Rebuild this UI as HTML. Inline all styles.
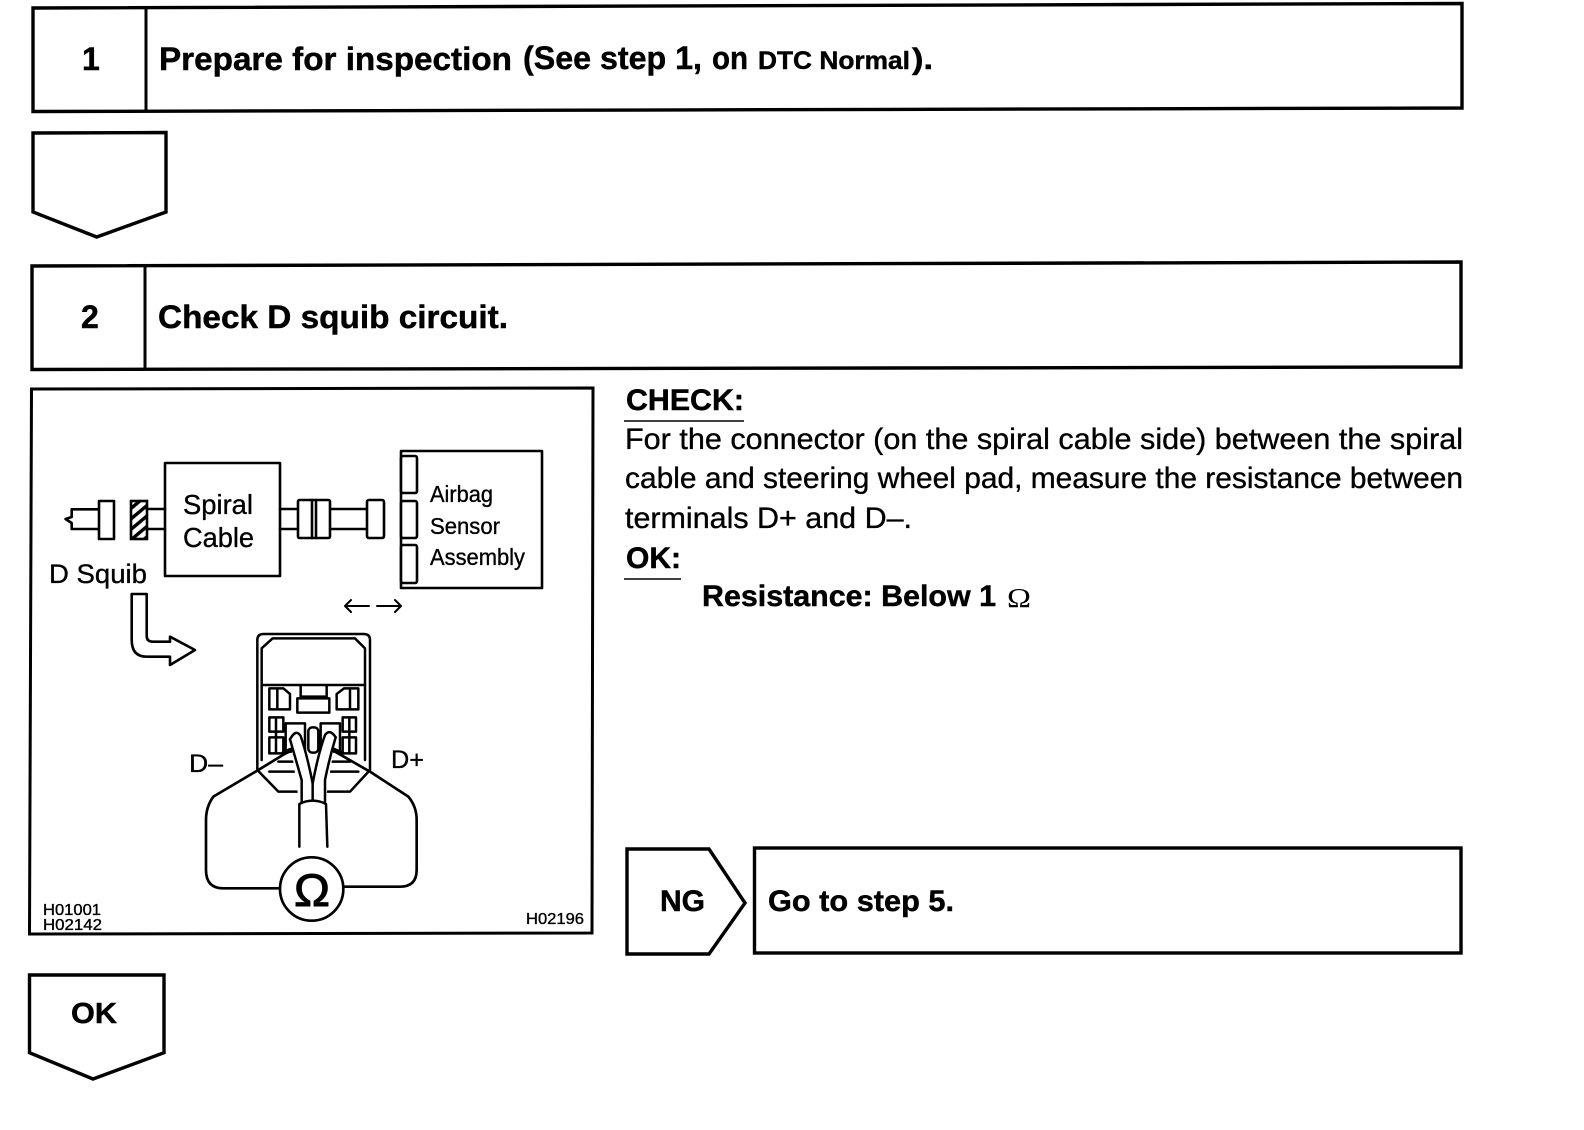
<!DOCTYPE html>
<html lang="en">
<head>
<meta charset="utf-8">
<title>Check D squib circuit</title>
<style>
html,body{margin:0;padding:0;background:#fff;width:1584px;height:1130px;overflow:hidden}
svg{display:block}
text{font-family:"Liberation Sans",Arial,sans-serif;fill:#000}
.b{font-weight:700;stroke:#000;stroke-width:.45px}
.r{stroke:#000;stroke-width:.35px}
.s{fill:none;stroke:#000;stroke-width:2.6;stroke-linejoin:round;stroke-linecap:round}
.f{fill:#fff;stroke:#000;stroke-width:2.6;stroke-linejoin:round}
.h{fill:#fff;stroke:#000;stroke-width:3.4;stroke-linejoin:miter}
</style>
</head>
<body>
<svg xmlns="http://www.w3.org/2000/svg" width="1584" height="1130" viewBox="0 0 1584 1130">
<defs>
<pattern id="hat" width="8" height="8" patternUnits="userSpaceOnUse" patternTransform="rotate(-40)">
<rect width="8" height="8" fill="#fff"/><rect width="8" height="3.4" fill="#000"/>
</pattern>
</defs>
<rect width="1584" height="1130" fill="#fff"/>

<!-- Step 1 -->
<polygon class="h" points="33,8 1462,3.5 1462,108 33,111.5"/>
<line x1="146" y1="8" x2="146" y2="111" stroke="#000" stroke-width="3"/>
<text class="b" x="82" y="70" font-size="32">1</text>
<text class="b" x="159" y="70" font-size="32" textLength="353" lengthAdjust="spacingAndGlyphs">Prepare for inspection</text>
<text class="b" x="523" y="69" font-size="32" textLength="179" lengthAdjust="spacingAndGlyphs">(See step 1,</text>
<text class="b" x="712" y="69" font-size="32" textLength="36" lengthAdjust="spacingAndGlyphs">on</text>
<text class="b" x="758" y="69" font-size="25" textLength="152" lengthAdjust="spacingAndGlyphs">DTC Normal</text>
<text class="b" x="912" y="69" font-size="30" textLength="21" lengthAdjust="spacingAndGlyphs">).</text>

<!-- Pentagon 1 -->
<polygon class="h" points="33,133 166,132.5 166,212 96.7,237 33,212"/>

<!-- Step 2 -->
<polygon class="h" points="32,266 1461,262 1461,367 32,369.5"/>
<line x1="145" y1="266" x2="145" y2="369" stroke="#000" stroke-width="3"/>
<text class="b" x="81" y="328" font-size="32">2</text>
<text class="b" x="158" y="328" font-size="32" textLength="350" lengthAdjust="spacingAndGlyphs">Check D squib circuit.</text>

<!-- Picture frame -->
<polygon class="h" points="31.5,389 593,388 592,933 29.5,934" style="stroke-width:3"/>

<!-- Block diagram -->
<rect class="f" x="165" y="463" width="115" height="113"/>
<text class="r" x="183" y="514" font-size="28" textLength="70" lengthAdjust="spacingAndGlyphs">Spiral</text>
<text class="r" x="183" y="547" font-size="28" textLength="71" lengthAdjust="spacingAndGlyphs">Cable</text>
<text class="r" x="49" y="583" font-size="27" textLength="98" lengthAdjust="spacingAndGlyphs">D Squib</text>

<path class="s" d="M99 509.3H71.7V517L65.5 519L71.7 523V529H99"/>
<rect class="f" x="99" y="501" width="15" height="38"/>
<rect x="131" y="501" width="16" height="38" fill="url(#hat)" stroke="#000" stroke-width="2.6"/>
<path class="s" d="M147 509H165M147 529H165M280 509H298M280 529H298M330 509H367M330 529H367"/>
<rect class="f" x="298" y="500" width="32" height="38" rx="1.5"/>
<path class="s" d="M312 500V538M316 500V538"/>
<rect class="f" x="367" y="500" width="17" height="38" rx="2"/>

<rect class="f" x="401" y="451" width="141" height="137"/>
<rect class="f" x="401" y="456" width="16" height="37" rx="2"/>
<rect class="f" x="401" y="501" width="16" height="37" rx="2"/>
<rect class="f" x="401" y="545" width="16" height="38" rx="2"/>
<text class="r" x="430" y="502" font-size="23" textLength="63" lengthAdjust="spacingAndGlyphs">Airbag</text>
<text class="r" x="430" y="534" font-size="23" textLength="70" lengthAdjust="spacingAndGlyphs">Sensor</text>
<text class="r" x="430" y="565" font-size="23" textLength="95" lengthAdjust="spacingAndGlyphs">Assembly</text>

<path class="s" style="stroke-width:2" d="M369 606H345M351 600L345 606L351 612M377 606H401M395 600L401 606L395 612"/>

<!-- Bent arrow -->
<path class="f" d="M131.7 594V640Q131.7 656.7 146.7 656.7H170V665L195 650L170 636.7V641.7H153Q146.7 641.7 146.7 636V594Z"/>

<!-- Connector detail -->
<g transform="translate(170 620) scale(.33333)">
<g fill="none" stroke="#000" stroke-width="7.5" stroke-linejoin="round" stroke-linecap="round">
<path fill="#fff" d="M262 450V60Q262 42 280 42H582Q600 42 600 60V450L540 515H325Z"/>
<path d="M275 420V85L308 55H555L585 85V420"/>
<path d="M275 195H585"/>
<path d="M298 205H340L360 222V268H298ZM322 205V268"/>
<path d="M565 205H522L500 222V268H565ZM540 205V268"/>
<path d="M392 200V230H470V200M382 235H478V278H382Z"/>
<path d="M298 292H340V335H298ZM298 352H340V400H298ZM318 292V400M298 335H340"/>
<path d="M518 292H558V335H518ZM518 352H558V400H518ZM538 292V400M518 335H558"/>
<rect x="347" y="310" width="58" height="85"/>
<rect x="452" y="310" width="58" height="85"/>
<rect x="415" y="322" width="30" height="76" rx="12"/>
<path d="M298 455H385M470 455H565M325 425H385M470 425H540"/>
<path fill="#fff" d="M360 355Q375 330 392 347L428 490L465 345Q480 330 497 350L465 552H388Z" stroke="none"/>
<path d="M360 358Q378 325 392 348Q410 400 428 490V540"/>
<path d="M497 352Q480 325 465 345Q445 400 428 490"/>
<path d="M360 358Q375 410 395 480V545"/>
<path d="M497 352Q478 415 465 480V545"/>
<path fill="#fff" stroke="none" d="M388 552Q428 532 468 552L472 680H388Z"/>
<path d="M388 680V552Q428 532 468 552L472 680"/>
<path stroke-width="8" d="M360 392L265 450L130 530Q108 560 108 600V750Q108 805 160 805H335"/>
<path stroke-width="8" d="M490 392L600 455L715 530Q740 560 740 600V750Q740 800 690 800H525"/>
<path stroke-width="14" d="M340 400L362 390M492 390L514 400"/>
<circle cx="425" cy="807" r="95" fill="#fff" stroke-width="8"/>
</g>
</g>
<text x="294" y="906" font-size="45" class="r" textLength="36" lengthAdjust="spacingAndGlyphs" style="stroke-width:1px">Ω</text>
<text class="r" x="189" y="772" font-size="25" textLength="34" lengthAdjust="spacingAndGlyphs">D–</text>
<text class="r" x="391" y="768" font-size="25" textLength="33" lengthAdjust="spacingAndGlyphs">D+</text>
<text class="r" x="43" y="915" font-size="15.5" textLength="58" lengthAdjust="spacingAndGlyphs">H01001</text>
<text class="r" x="43" y="930" font-size="15.5" textLength="59" lengthAdjust="spacingAndGlyphs">H02142</text>
<text class="r" x="526" y="924" font-size="15.5" textLength="58" lengthAdjust="spacingAndGlyphs">H02196</text>

<!-- CHECK text -->
<text class="b" x="626" y="410" font-size="30" textLength="118" lengthAdjust="spacingAndGlyphs">CHECK:</text>
<line x1="624" y1="421" x2="744" y2="421" stroke="#000" stroke-width="1.6"/>
<text class="r" x="625" y="449" font-size="30" textLength="838" lengthAdjust="spacingAndGlyphs">For the connector (on the spiral cable side) between the spiral</text>
<text class="r" x="625" y="488" font-size="30" textLength="838" lengthAdjust="spacingAndGlyphs">cable and steering wheel pad, measure the resistance between</text>
<text class="r" x="625" y="528" font-size="30" textLength="287" lengthAdjust="spacingAndGlyphs">terminals D+ and D–.</text>
<text class="b" x="626" y="568" font-size="30" textLength="55" lengthAdjust="spacingAndGlyphs">OK:</text>
<line x1="624" y1="579" x2="681" y2="579" stroke="#000" stroke-width="1.6"/>
<text class="b" x="702" y="606" font-size="30" textLength="294" lengthAdjust="spacingAndGlyphs">Resistance: Below 1</text>
<text x="1007" y="607" font-size="27" textLength="24" lengthAdjust="spacingAndGlyphs" style="font-family:'Liberation Serif',serif">Ω</text>

<!-- NG -->
<polygon class="h" points="627,849 709,849 745,903 709,954 627,954"/>
<text class="b" x="660" y="911" font-size="30" textLength="45" lengthAdjust="spacingAndGlyphs">NG</text>
<rect class="h" x="754.5" y="848" width="706.5" height="105"/>
<text class="b" x="768" y="911" font-size="30" textLength="186" lengthAdjust="spacingAndGlyphs">Go to step 5.</text>

<!-- OK pentagon -->
<polygon class="h" points="29.5,975 164,975 164,1052.7 93,1079 29.5,1052.7"/>
<text class="b" x="71" y="1023" font-size="29" textLength="46" lengthAdjust="spacingAndGlyphs">OK</text>
</svg>
</body>
</html>
